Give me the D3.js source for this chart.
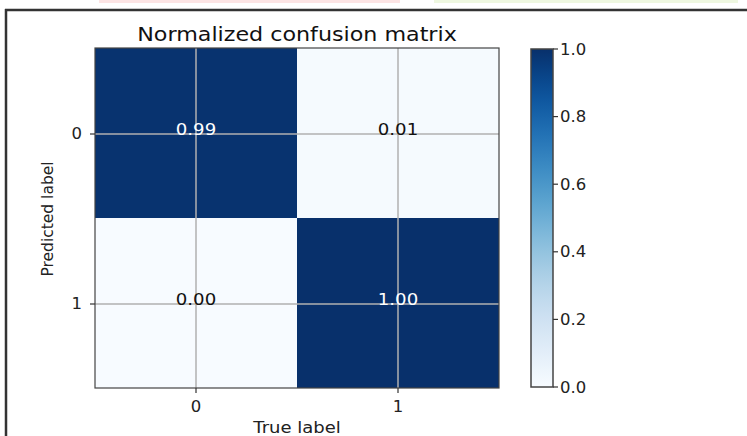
<!DOCTYPE html>
<html>
<head>
<meta charset="utf-8">
<script src="https://cdn.jsdelivr.net/npm/d3@7"></script>
<style>
  html, body { margin: 0; padding: 0; background: #fff; }
  svg { display: block; font-family: 'DejaVu Sans', sans-serif; }
</style>
</head>
<body>
<div id="chart"></div>
<script>
// class labels and normalized values (rows = predicted, cols = true)
const classes = ['0', '1'];
const row0 = [0.99, 0.01];
const row1 = [0.00, 1.00];
const colorTicks = [0.0, 0.2, 0.4, 0.6, 0.8, 1.0];

const W = 747, H = 436;
const sx = 1.1; // reference text looks a bit stretched horizontally

const svg = d3.select('#chart').append('svg')
  .attr('width', W).attr('height', H);

// bits of the page around the figure
svg.append('rect').attr('x', 99).attr('y', 0).attr('width', 301).attr('height', 3).attr('fill', '#fce4e4');
svg.append('rect').attr('x', 434).attr('y', 0).attr('width', 304).attr('height', 3).attr('fill', '#eef7e0');
svg.append('line').attr('x1', 5).attr('x2', W).attr('y1', 10).attr('y2', 10)
  .attr('stroke', '#333').attr('stroke-width', 2.5);
svg.append('line').attr('x1', 6).attr('x2', 6).attr('y1', 9).attr('y2', H)
  .attr('stroke', '#333').attr('stroke-width', 2.5);

function stretchText(sel, x, y, s) {
  return sel.attr('transform', 'translate(' + x + ',' + y + ') scale(' + (s || sx) + ',1)');
}

const matrix = [row0, row1];
const cells = [];
matrix.forEach((r, i) => r.forEach((v, j) => cells.push({ row: classes[i], col: classes[j], v })));

const x = d3.scaleBand().domain(classes).range([95, 499]);
const y = d3.scaleBand().domain(classes).range([48, 388]);
const color = d3.scaleSequential(d3.interpolateBlues).domain([0, 1]);
const thresh = d3.max(cells, d => d.v) / 2;

const g = svg.append('g');

g.selectAll('rect.cell').data(cells).enter().append('rect')
  .attr('class', 'cell')
  .attr('x', d => x(d.col))
  .attr('y', d => y(d.row))
  .attr('width', x.bandwidth())
  .attr('height', y.bandwidth())
  .attr('fill', d => color(d.v));

// grid lines at tick positions
g.selectAll('line.gx').data(classes).enter().append('line')
  .attr('x1', d => x(d) + x.bandwidth() / 2).attr('x2', d => x(d) + x.bandwidth() / 2)
  .attr('y1', 48).attr('y2', 388)
  .attr('stroke', '#b0b0b0').attr('stroke-width', 1.5);
g.selectAll('line.gy').data(classes).enter().append('line')
  .attr('y1', d => y(d) + y.bandwidth() / 2 + 1).attr('y2', d => y(d) + y.bandwidth() / 2 + 1)
  .attr('x1', 95).attr('x2', 499)
  .attr('stroke', '#b0b0b0').attr('stroke-width', 1.5);

// values
g.selectAll('text.val').data(cells).enter().append('text')
  .attr('class', 'val')
  .each(function (d) {
    stretchText(d3.select(this), x(d.col) + x.bandwidth() / 2, y(d.row) + y.bandwidth() / 2 + 2);
  })
  .attr('text-anchor', 'middle')
  .attr('font-size', 16.5)
  .attr('fill', d => d.v > thresh ? '#fff' : '#111')
  .text(d => d.v.toFixed(2));

// spines
g.append('rect').attr('x', 95).attr('y', 48).attr('width', 404).attr('height', 340)
  .attr('fill', 'none').attr('stroke', '#444').attr('stroke-width', 1.2);

// x axis
const xAxis = svg.append('g');
xAxis.selectAll('line').data(classes).enter().append('line')
  .attr('x1', d => x(d) + x.bandwidth() / 2).attr('x2', d => x(d) + x.bandwidth() / 2)
  .attr('y1', 388).attr('y2', 393).attr('stroke', '#333').attr('stroke-width', 1.2);
xAxis.selectAll('text').data(classes).enter().append('text')
  .each(function (d) { stretchText(d3.select(this), x(d) + x.bandwidth() / 2, 412); })
  .attr('text-anchor', 'middle').attr('font-size', 15).attr('fill', '#222')
  .text(d => d);

// y axis
const yAxis = svg.append('g');
yAxis.selectAll('line').data(classes).enter().append('line')
  .attr('y1', d => y(d) + y.bandwidth() / 2 + 1).attr('y2', d => y(d) + y.bandwidth() / 2 + 1)
  .attr('x1', 90).attr('x2', 95).attr('stroke', '#333').attr('stroke-width', 1.2);
yAxis.selectAll('text').data(classes).enter().append('text')
  .each(function (d) { stretchText(d3.select(this), 82, y(d) + y.bandwidth() / 2 + 6); })
  .attr('text-anchor', 'end').attr('font-size', 15).attr('fill', '#222')
  .text(d => d);

// titles
stretchText(svg.append('text'), 297, 41)
  .attr('text-anchor', 'middle').attr('font-size', 20.2).attr('fill', '#111')
  .text('Normalized confusion matrix');
stretchText(svg.append('text'), 297, 433, 1.2)
  .attr('text-anchor', 'middle').attr('font-size', 15).attr('fill', '#222')
  .text('True label');
svg.append('text')
  .attr('transform', 'translate(53,219) rotate(-90)')
  .attr('text-anchor', 'middle').attr('font-size', 15.5).attr('fill', '#222')
  .text('Predicted label');

// colorbar
const cb = { x: 531, w: 22 };
const cy = d3.scaleLinear().domain([0, 1]).range([387, 49]);
const grad = svg.append('defs').append('linearGradient')
  .attr('id', 'blues').attr('x1', 0).attr('y1', 1).attr('x2', 0).attr('y2', 0);
d3.range(0, 1.0001, 0.05).forEach(t => {
  grad.append('stop').attr('offset', t).attr('stop-color', color(t));
});
svg.append('rect').attr('x', cb.x).attr('y', cy(1)).attr('width', cb.w).attr('height', cy(0) - cy(1))
  .attr('fill', 'url(#blues)').attr('stroke', '#444').attr('stroke-width', 1.5);

const cAxis = svg.append('g').attr('transform', 'translate(' + (cb.x + cb.w) + ',0)');
cAxis.selectAll('line').data(colorTicks).enter().append('line')
  .attr('x1', 0).attr('x2', 5).attr('y1', d => cy(d)).attr('y2', d => cy(d))
  .attr('stroke', '#333').attr('stroke-width', 1.2);
cAxis.selectAll('text').data(colorTicks).enter().append('text')
  .each(function (d) { stretchText(d3.select(this), 7, cy(d) + 5.5); })
  .attr('font-size', 15).attr('fill', '#222')
  .text(d => d.toFixed(1));
</script>
</body>
</html>
